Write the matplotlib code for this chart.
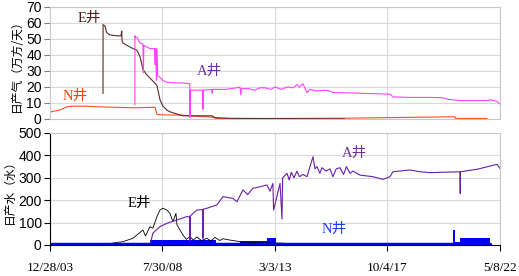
"""
plot.py
-------
Daily gas / water production of wells E, A and N (two stacked panels).
Run: python plot.py
"""

import numpy as np
import pandas as pd
import matplotlib
matplotlib.use("Agg")
import matplotlib.pyplot as plt

# ── DATA ──────────────────────────────────────────────────────────────────────
TICK_DATES  = ["2003-12-28", "2008-07-30", "2013-03-03", "2017-10-04", "2022-05-08"]
TICK_LABELS = ["12/28/03", "7/30/08", "3/3/13", "10/4/17", "5/8/22"]

# gas, 10^4 m3/day
e_gas_dates = ["2006-02-25", "2006-02-26", "2006-03-26", "2006-04-20", "2006-06-09",
               "2006-09-21", "2006-11-20", "2006-12-01", "2006-12-05", "2006-12-20", "2007-02-17",
               "2007-05-18", "2007-07-16", "2007-08-30", "2007-10-13", "2007-12-01", "2008-01-26",
               "2008-05-09", "2008-06-23", "2008-08-06", "2008-10-05", "2008-11-19", "2009-04-17",
               "2009-05-31", "2010-02-09", "2010-08-07", "2010-09-20", "2011-06-01", "2012-07-22",
               "2014-01-01", "2016-01-01"]
e_gas       = [16, 59, 58, 54, 52.5,
               52, 52, 55, 49, 47.5, 46,
               44, 43, 39, 31, 28, 25.6,
               21, 12, 8, 5.5, 4.5, 2.5,
               2, 2, 2, 0.8, 0.4, 0.3,
               0.2, 0.1]

a_gas_dates = ["2007-06-15", "2007-06-16", "2007-06-17", "2007-07-16", "2007-08-30", "2007-10-13",
               "2007-10-20", "2007-10-27", "2007-12-12", "2008-01-26", "2008-03-20", "2008-04-01",
               "2008-04-09", "2008-04-20", "2008-05-01", "2008-05-09", "2008-05-20", "2008-06-23",
               "2008-08-06", "2008-10-05", "2009-03-03", "2009-06-01", "2009-09-10", "2009-09-13",
               "2009-09-16", "2009-10-27", "2010-03-20", "2010-03-25", "2010-03-30", "2010-08-01",
               "2010-08-10", "2010-08-20", "2011-03-01", "2011-09-28", "2011-10-10", "2011-10-20",
               "2012-02-01", "2012-05-01", "2012-07-22", "2012-10-01", "2013-01-01", "2013-03-03",
               "2013-06-01", "2013-09-01", "2013-12-01", "2014-01-25", "2014-03-01", "2014-04-24",
               "2014-06-23", "2014-08-06", "2014-11-19", "2015-03-01", "2015-05-31", "2015-07-15",
               "2016-03-24", "2016-10-01", "2017-05-01", "2017-11-10", "2017-12-25", "2018-09-04",
               "2019-06-29", "2020-01-09", "2020-03-08", "2020-09-18", "2021-05-30", "2021-10-26",
               "2021-12-10", "2022-03-24", "2022-05-08"]
a_gas       = [9, 52, 51, 51, 47.5, 47,
               29, 46, 45, 44, 44, 44,
               34, 44, 24, 44, 27, 26,
               24, 23, 22.5, 22.5, 22, 1,
               18, 18, 18, 6, 18, 18.5,
               16, 18.5, 18.5, 19.8, 15, 19,
               19, 18, 19.5, 19.5, 18.5, 20,
               18.5, 20, 19.5, 21.5, 20, 22,
               16.5, 18.5, 17.5, 18, 17.5, 16.5,
               16.3, 16, 15.8, 15.5, 13.8, 13.5,
               13.5, 13.3, 12.4, 11.5, 11.5, 11.5,
               12, 11, 9.3]

n_gas_dates = ["2003-12-28", "2004-01-10", "2004-05-25", "2004-09-06", "2004-12-05", "2005-06-01",
               "2006-01-11", "2006-09-21", "2007-05-18", "2007-12-12", "2008-04-09", "2008-05-09",
               "2008-05-20", "2008-10-05", "2009-04-17", "2010-02-09", "2010-08-07", "2010-10-20",
               "2012-07-22", "2016-01-01", "2020-07-06", "2020-07-10", "2021-10-26"]
n_gas       = [3, 4.5, 5.6, 7.7, 8, 8,
               7.6, 7.3, 7, 7.2, 7.3, 3,
               2.8, 2.5, 2.5, 1.5, 1.2, 0.3,
               0.3, 0.5, 1.4, 0.4, 0.3]

# water, m3/day
e_wat_dates = ["2003-12-28", "2006-02-24", "2006-12-20", "2007-05-18", "2007-10-13", "2007-11-20",
               "2008-01-26", "2008-03-10", "2008-05-09", "2008-06-23", "2008-08-06", "2008-10-05",
               "2008-11-19", "2009-01-02", "2009-02-16", "2009-03-03", "2009-04-17", "2009-05-31",
               "2009-07-20", "2009-09-13", "2009-11-01", "2009-12-26", "2010-03-01", "2010-05-24",
               "2010-07-20", "2010-09-20", "2010-12-01", "2011-01-17", "2011-05-02", "2011-11-11",
               "2012-07-22", "2013-06-30"]
e_wat       = [0, 2, 15, 30, 67, 40,
               82, 75, 127, 156, 164, 156,
               141, 104, 141, 90, 67, 45,
               25, 38, 22, 36, 20, 30,
               18, 34, 20, 28, 22, 13,
               10, 8]

a_wat_dates = ["2008-01-26", "2008-03-10", "2008-06-23", "2008-10-05", "2009-03-03", "2009-07-30",
               "2009-09-10", "2009-09-13", "2009-09-16", "2009-12-26", "2010-03-20", "2010-03-25",
               "2010-03-30", "2010-05-24", "2010-10-20", "2011-01-17", "2011-06-15", "2011-08-14",
               "2011-11-11", "2012-01-20", "2012-04-08", "2012-07-22", "2012-11-03", "2012-12-18",
               "2013-01-31", "2013-02-10", "2013-05-17", "2013-06-15", "2013-06-25", "2013-08-29",
               "2013-10-01", "2013-11-01", "2013-12-10", "2014-01-25", "2014-03-01", "2014-04-24",
               "2014-06-23", "2014-08-01", "2014-09-20", "2014-10-20", "2014-11-19", "2015-01-01",
               "2015-02-01", "2015-04-01", "2015-05-31", "2015-07-15", "2015-09-01", "2015-10-27",
               "2015-12-20", "2016-02-01", "2016-03-24", "2016-05-08", "2016-08-20", "2017-03-02",
               "2017-07-29", "2017-11-10", "2017-12-25", "2018-09-04", "2019-01-31", "2019-06-29",
               "2020-09-18", "2020-09-22", "2020-09-26", "2021-05-30", "2022-03-24", "2022-05-08"]
a_wat       = [0, 53, 82, 97, 112, 127,
               125, 20, 130, 156, 158, 30,
               160, 164, 179, 216, 208, 193,
               246, 225, 253, 260, 268, 240,
               275, 156, 275, 116, 300, 320,
               290, 325, 300, 330, 305, 315,
               305, 345, 394, 340, 350, 320,
               345, 330, 340, 305, 340, 345,
               315, 350, 320, 330, 312, 305,
               293, 305, 327, 335, 327, 323,
               327, 230, 327, 338, 360, 342]

n_wat_dates = ["2003-12-28", "2007-12-01", "2008-01-26", "2010-09-20", "2010-10-01", "2011-01-10",
               "2011-01-17", "2011-01-24", "2011-02-10", "2011-09-28", "2012-07-22", "2012-11-03",
               "2013-01-10", "2013-03-20", "2020-06-01", "2020-06-06", "2020-06-20", "2020-07-06",
               "2020-09-18", "2021-05-30", "2021-10-26", "2021-12-10"]
n_wat       = [5, 5, 22, 22, 8, 8,
               82, 8, 6, 20, 20, 30,
               30, 5, 5, 67, 67, 15,
               30, 32, 30, 0]


def ts(dates):
    return pd.to_datetime(dates)


# ── FIGURE ────────────────────────────────────────────────────────────────────
plt.rcParams["font.family"] = ["Liberation Sans", "Noto Sans CJK SC"]
fig = plt.figure(figsize=(5.19, 2.76), dpi=100)
W, H = 519, 276
ax1 = fig.add_axes([50 / W, (H - 119) / H, 450 / W, 112 / H])
ax2 = fig.add_axes([50 / W, (H - 245) / H, 450 / W, 112 / H])

GRID = "#d9d9d9"
xmin, xmax = ts(TICK_DATES)[0], ts(TICK_DATES)[-1]
for ax in (ax1, ax2):
    ax.set_xlim(xmin, xmax)
    ax.set_xticks(ts(TICK_DATES))
    ax.grid(True, color=GRID, lw=0.8)
    ax.set_axisbelow(True)
    for s in ax.spines.values():
        s.set_color("#c8c8c8")
    ax.tick_params(axis="y", labelsize=10, length=4, pad=2, color="#808080")

# top panel: gas
ax1.plot(ts(n_gas_dates), n_gas, color="#ff4c1f", lw=0.8)
ax1.plot(ts(e_gas_dates), e_gas, color="#5c2a2a", lw=0.8)
ax1.plot(ts(a_gas_dates), a_gas, color="#ff40ff", lw=0.8)
ax1.set_ylim(0, 70)
ax1.set_yticks(np.arange(0, 71, 10))
ax1.tick_params(axis="x", length=0, labelbottom=False)
ax1.set_ylabel("日产气（万方/天）", family=["Noto Sans CJK SC"], fontsize=8.5, labelpad=2)

lab = ["Liberation Serif", "Noto Sans CJK SC"]
ax1.text(ts(["2005-08-01"])[0], 63, "E井", color="#4d1f1f", fontsize=10.5, family=lab, ha="center", va="center")
ax1.text(ts(["2010-07-01"])[0], 30, "A井", color="#7030a0", fontsize=10.5, family=lab, ha="center", va="center")
ax1.text(ts(["2005-01-01"])[0], 14, "N井", color="#ff4000", fontsize=10.5, family=lab, ha="center", va="center")

# bottom panel: water
ax2.plot(ts(e_wat_dates), e_wat, color="black", lw=0.6)
ax2.plot(ts(a_wat_dates), a_wat, color="#6a1fa8", lw=0.8)
ax2.fill_between(ts(n_wat_dates), 0, n_wat, color="#0000ff", lw=0, step="post")
ax2.plot(ts(n_wat_dates), np.minimum(n_wat, 6), color="#0000ff", lw=2.5, drawstyle="steps-post")
ax2.set_ylim(0, 500)
ax2.set_yticks(np.arange(0, 501, 100))
ax2.spines["left"].set_color("black")
ax2.spines["bottom"].set_color("black")
ax2.tick_params(axis="y", color="black")
ax2.tick_params(axis="x", direction="out", length=4, color="black", pad=8)
ax2.set_xticklabels(TICK_LABELS, family=["Liberation Serif"], fontsize=9.5)
ax2.set_ylabel("日产水（水）", family=["Noto Sans CJK SC"], fontsize=8.5, labelpad=2)

ax2.text(ts(["2007-08-20"])[0], 188, "E井", color="black", fontsize=10.5, family=lab, ha="center", va="center")
ax2.text(ts(["2016-06-01"])[0], 410, "A井", color="#7030a0", fontsize=10.5, family=lab, ha="center", va="center")
ax2.text(ts(["2015-08-01"])[0], 68, "N井", color="#1f3fff", fontsize=10.5, family=lab, ha="center", va="center")

fig.savefig("out.png", dpi=100)
print("Saved out.png")
